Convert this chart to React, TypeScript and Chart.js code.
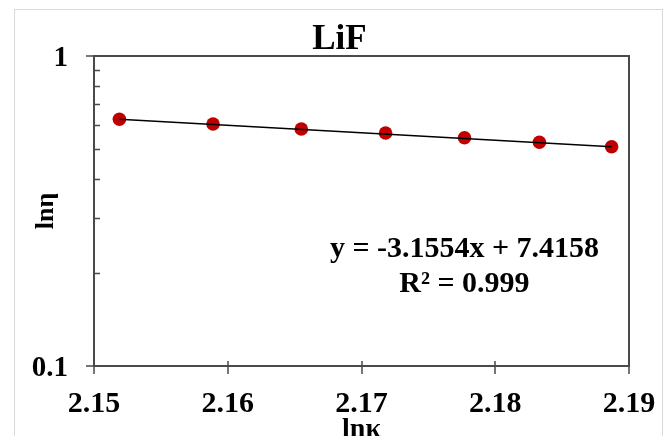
import React, { useEffect, useRef } from "react";
import { Chart, registerables } from "chart.js";

Chart.register(...registerables);

const lnK = [2.1519, 2.1589, 2.1655, 2.1718, 2.1777, 2.1833, 2.1887];
const lnEta = [0.6249, 0.6036, 0.5814, 0.5644, 0.545, 0.5268, 0.5097];
const trendX = [2.1519, 2.1887];
const trendY = [0.6256, 0.5098];
const xTicks = [2.15, 2.16, 2.17, 2.18, 2.19];
const yMajor = [0.1, 1];
const yMinor = [0.2, 0.3, 0.4, 0.5, 0.6, 0.7, 0.8, 0.9];
const equationText = ["y = -3.1554x + 7.4158", "R\u00b2 = 0.999"];
const annX = 2.1777;
const annY = [0.2384, 0.1839];

const FONT = "'Liberation Serif', 'Times New Roman', serif";

const decorPlugin = {
  id: "decor",
  afterLayout(chart: any) {
    const t = chart.titleBlock;
    if (t) {
      t.left = 0;
      t.right = 679;
      t.width = 679;
    }
  },
  beforeDraw(chart: any) {
    const { ctx } = chart;
    ctx.save();
    ctx.strokeStyle = "#d9d9d9";
    ctx.lineWidth = 1;
    ctx.strokeRect(14.5, 9.5, 648, 440);
    ctx.restore();
  },
  afterDraw(chart: any) {
    const { ctx, chartArea } = chart;
    const xs = chart.scales.x;
    const ys = chart.scales.y;
    const { left, right, top, bottom } = chartArea;
    ctx.save();
    ctx.strokeStyle = "#4a4a4a";
    ctx.lineWidth = 2;
    ctx.strokeRect(left, top, right - left, bottom - top);
    ctx.lineWidth = 1.5;
    ctx.beginPath();
    xTicks.forEach((v) => {
      const px = Math.round(xs.getPixelForValue(v));
      ctx.moveTo(px, bottom - 5);
      ctx.lineTo(px, bottom + 8);
    });
    yMajor.forEach((v) => {
      const py = Math.round(ys.getPixelForValue(v));
      ctx.moveTo(left - 8, py);
      ctx.lineTo(left, py);
    });
    yMinor.forEach((v) => {
      const py = Math.round(ys.getPixelForValue(v)) + 0.5;
      ctx.moveTo(left, py);
      ctx.lineTo(left + 6, py);
    });
    ctx.stroke();

    ctx.fillStyle = "#000";
    ctx.font = `bold 30px ${FONT}`;
    ctx.textAlign = "center";
    ctx.textBaseline = "middle";
    equationText.forEach((t, i) => {
      ctx.fillText(t, xs.getPixelForValue(annX), ys.getPixelForValue(annY[i]));
    });
    ctx.restore();
  },
};

export default function App() {
  const ref = useRef<HTMLCanvasElement | null>(null);
  useEffect(() => {
    if (!ref.current) return;
    const chart = new Chart(ref.current, {
      type: "scatter",
      data: {
        datasets: [
          {
            label: "trend",
            data: trendX.map((x, i) => ({ x, y: trendY[i] })),
            showLine: true,
            borderColor: "#000",
            borderWidth: 1.5,
            pointRadius: 0,
          },
          {
            label: "lnη",
            data: lnK.map((x, i) => ({ x, y: lnEta[i] })),
            showLine: false,
            backgroundColor: "#c00000",
            borderColor: "#c00000",
            pointRadius: 6.8,
            borderWidth: 0,
          },
        ],
      },
      options: {
        responsive: false,
        animation: false,
        layout: { padding: { left: 0, right: 38, top: 16, bottom: 0 } },
        plugins: {
          legend: { display: false },
          tooltip: { enabled: false },
          title: {
            display: true,
            text: "LiF",
            color: "#000",
            font: { family: FONT, size: 35, weight: "bold", lineHeight: 1 },
            padding: { top: 6, bottom: -1 },
          },
        },
        scales: {
          x: {
            type: "linear",
            min: 2.15,
            max: 2.19,
            afterFit: (s: any) => {
              s.height = 70;
              s.paddingLeft = 0;
              s.paddingRight = 0;
            },
            afterBuildTicks: (s: any) => {
              s.ticks = xTicks.map((v) => ({ value: v }));
            },
            grid: { display: false, drawTicks: false },
            border: { display: false },
            ticks: {
              color: "#000",
              padding: 20,
              font: { family: FONT, size: 30, weight: "bold", lineHeight: 1.2 },
              callback: (v: any) => Number(v).toFixed(2),
            },
            title: {
              display: true,
              text: "lnκ",
              color: "#000",
              font: { family: FONT, size: 28, weight: "bold", lineHeight: 1.2 },
              padding: { top: 0, bottom: -10.8 },
            },
          },
          y: {
            type: "logarithmic",
            min: 0.1,
            max: 1,
            afterFit: (s: any) => {
              s.width = 94;
              s.paddingTop = 0;
              s.paddingBottom = 0;
            },
            afterBuildTicks: (s: any) => {
              s.ticks = yMajor.map((v) => ({ value: v, major: true }));
            },
            grid: { display: false, drawTicks: false },
            border: { display: false },
            ticks: {
              color: "#000",
              padding: 26,
              labelOffset: 3,
              autoSkip: false,
              font: { family: FONT, size: 29, weight: "bold", lineHeight: 1.2 },
              callback: (v: any) => (Math.abs(v - 1) < 1e-9 ? "1" : "0.1"),
            },
            title: {
              display: true,
              text: "lnη",
              color: "#000",
              font: { family: FONT, size: 26, weight: "bold", lineHeight: 1.2 },
              padding: { top: 31, bottom: 0 },
            },
          },
        },
      },
      plugins: [decorPlugin],
    });
    return () => chart.destroy();
  }, []);
  return (
    <div style={{ position: "absolute", left: 0, top: 0, width: 667, height: 436, background: "#fff" }}>
      <canvas ref={ref} width={667} height={436} style={{ display: "block" }} />
    </div>
  );
}
